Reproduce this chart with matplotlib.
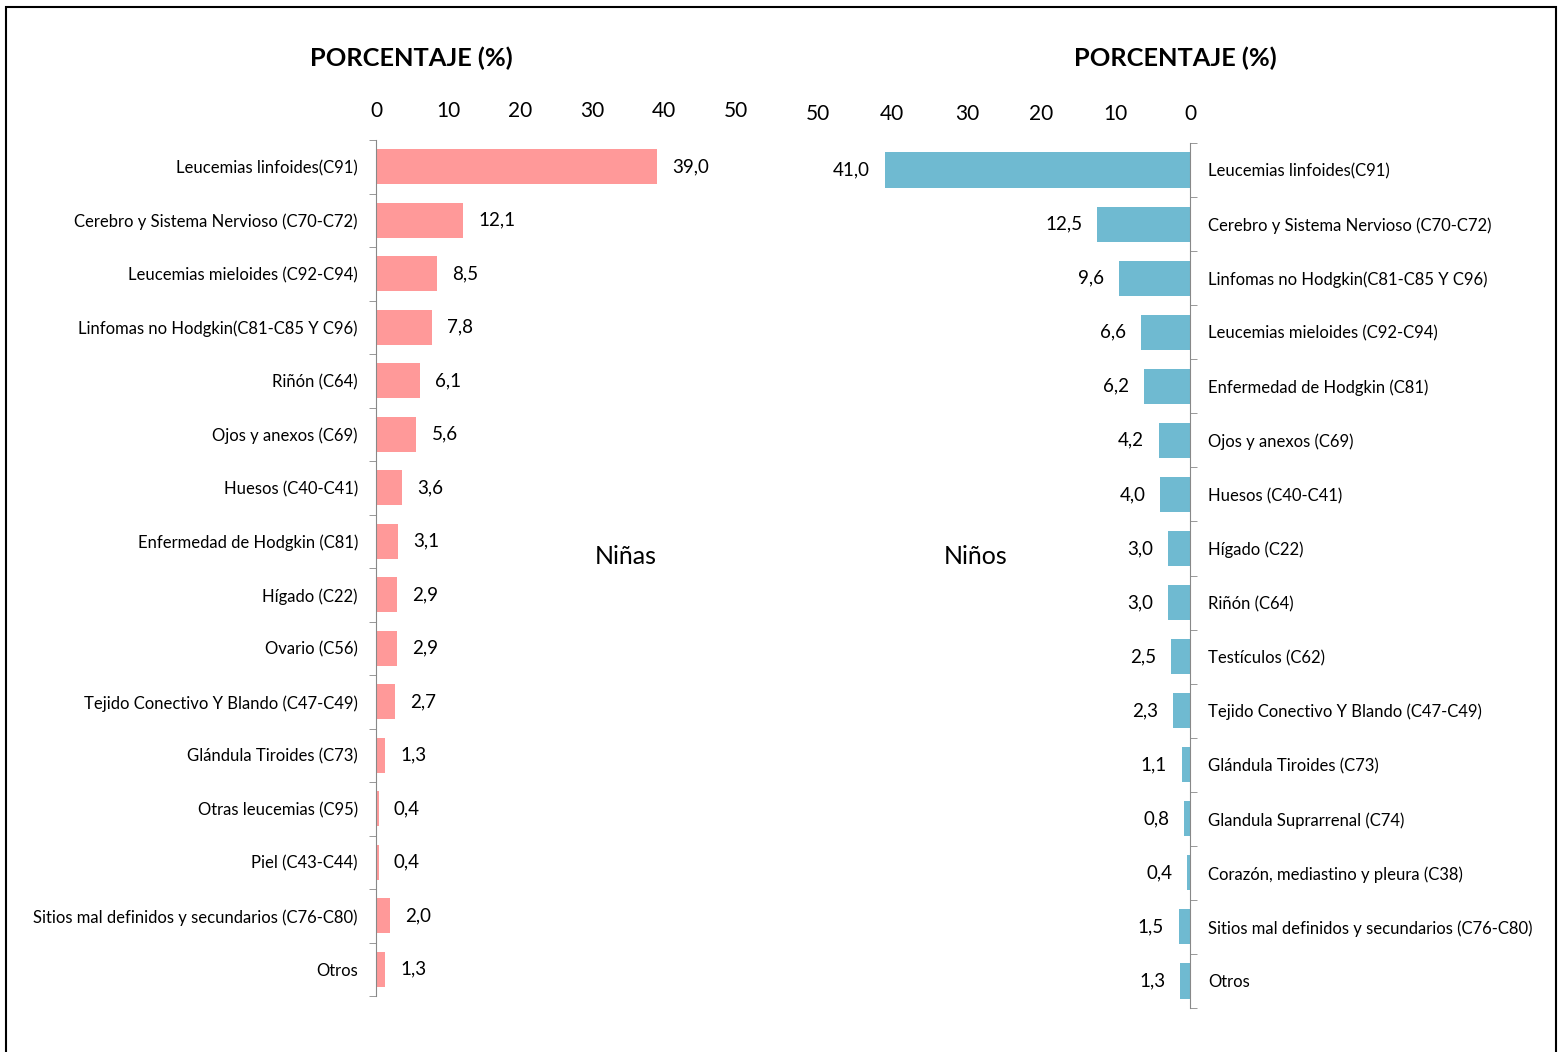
import numpy as np
import matplotlib.pyplot as plt
from matplotlib.patches import Rectangle

plt.rcParams['font.family'] = ['Lato', 'DejaVu Sans']

# Niñas
girls_labels = [
    "Leucemias linfoides(C91)",
    "Cerebro y Sistema Nervioso (C70-C72)",
    "Leucemias mieloides (C92-C94)",
    "Linfomas no Hodgkin(C81-C85 Y C96)",
    "Riñón (C64)",
    "Ojos y anexos (C69)",
    "Huesos (C40-C41)",
    "Enfermedad de Hodgkin (C81)",
    "Hígado (C22)",
    "Ovario (C56)",
    "Tejido Conectivo Y Blando (C47-C49)",
    "Glándula Tiroides (C73)",
    "Otras leucemias (C95)",
    "Piel (C43-C44)",
    "Sitios mal definidos y secundarios (C76-C80)",
    "Otros",
]
girls_values = [39.0, 12.1, 8.5, 7.8, 6.1, 5.6, 3.6, 3.1, 2.9, 2.9, 2.7, 1.3, 0.4, 0.4, 2.0, 1.3]

# Niños
boys_labels = [
    "Leucemias linfoides(C91)",
    "Cerebro y Sistema Nervioso (C70-C72)",
    "Linfomas no Hodgkin(C81-C85 Y C96)",
    "Leucemias mieloides (C92-C94)",
    "Enfermedad de Hodgkin (C81)",
    "Ojos y anexos (C69)",
    "Huesos (C40-C41)",
    "Hígado (C22)",
    "Riñón (C64)",
    "Testículos (C62)",
    "Tejido Conectivo Y Blando (C47-C49)",
    "Glándula Tiroides (C73)",
    "Glandula Suprarrenal (C74)",
    "Corazón, mediastino y pleura (C38)",
    "Sitios mal definidos y secundarios (C76-C80)",
    "Otros",
]
boys_values = [41.0, 12.5, 9.6, 6.6, 6.2, 4.2, 4.0, 3.0, 3.0, 2.5, 2.3, 1.1, 0.8, 0.4, 1.5, 1.3]

x_ticks = [0, 10, 20, 30, 40, 50]


def fmt(v):
    return f"{v:.1f}".replace(".", ",")


def draw_panel(ax, labels, values, color, side):
    n = len(labels)
    y = np.arange(n)
    ax.barh(y, values, height=0.65, color=color)
    ax.set_ylim(n - 0.5, -0.5)
    ax.set_yticks(y)
    ax.set_yticklabels(labels, fontsize=12)
    ax.set_yticks(np.arange(n + 1) - 0.5, minor=True)
    ax.set_xticks(x_ticks)
    ax.set_xticklabels([str(t) for t in x_ticks], fontsize=15)
    ax.xaxis.tick_top()
    ax.tick_params(axis='x', length=0, pad=14)
    for s in ['top', 'bottom', 'left', 'right']:
        ax.spines[s].set_visible(False)
    if side == 'left':
        ax.set_xlim(0, 50)
        ax.spines['left'].set_visible(True)
        ax.spines['left'].set_color('#888888')
        ax.tick_params(axis='y', which='major', length=0, pad=13)
        ax.tick_params(axis='y', which='minor', length=5, color='#888888')
        for yi, v in zip(y, values):
            ax.text(v + 2.1, yi, fmt(v), va='center', ha='left', fontsize=13.5)
    else:
        ax.set_xlim(50, 0)
        ax.yaxis.tick_right()
        ax.spines['right'].set_visible(True)
        ax.spines['right'].set_color('#888888')
        ax.tick_params(axis='y', which='major', length=0, pad=13)
        ax.tick_params(axis='y', which='minor', length=5, color='#888888',
                       right=True, left=False)
        for yi, v in zip(y, values):
            ax.text(v + 2.0, yi, fmt(v), va='center', ha='right', fontsize=13.5)


fig = plt.figure(figsize=(15.61, 10.52), dpi=100)

ax1 = fig.add_axes([376 / 1561, 1 - 996 / 1052, 360 / 1561, 856 / 1052])
ax2 = fig.add_axes([818 / 1561, 1 - 1008 / 1052, 372 / 1561, 865 / 1052])

draw_panel(ax1, girls_labels, girls_values, '#FF9999', 'left')
draw_panel(ax2, boys_labels, boys_values, '#6FBAD1', 'right')

fig.text(411 / 1561, 1 - 58 / 1052, "PORCENTAJE (%)", ha='center', va='center',
         fontsize=18.3, fontweight='bold')
fig.text(1175 / 1561, 1 - 58 / 1052, "PORCENTAJE (%)", ha='center', va='center',
         fontsize=18.3, fontweight='bold')
fig.text(626 / 1561, 1 - 556 / 1052, "Niñas", ha='center', va='center', fontsize=18)
fig.text(976 / 1561, 1 - 556 / 1052, "Niños", ha='center', va='center', fontsize=18)

fig.patches.append(Rectangle((6 / 1561, -0.01), 1550 / 1561, 1.01 - 7 / 1052,
                             transform=fig.transFigure, fill=False,
                             edgecolor='black', linewidth=1.5))

fig.savefig("out.png", dpi=100)
